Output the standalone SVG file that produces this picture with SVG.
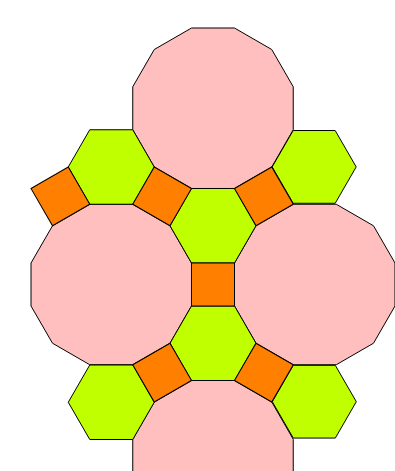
<svg xmlns="http://www.w3.org/2000/svg" width="395" height="471" viewBox="0 0 395 471">
<style>
.d{fill:#ffbfbf;stroke:#000;stroke-width:1}
.h{fill:#bfff00;stroke:#000;stroke-width:1}
.s{fill:#ff8000;stroke:#000;stroke-width:1}
</style>
<defs>
<polygon id="dod" points="80.24,21.5 58.74,58.74 21.5,80.24 -21.5,80.24 -58.74,58.74 -80.24,21.5 -80.24,-21.5 -58.74,-58.74 -21.5,-80.24 21.5,-80.24 58.74,-58.74 80.24,-21.5"/>
<polygon id="hex" points="43,0 21.5,37.24 -21.5,37.24 -43,0 -21.5,-37.24 21.5,-37.24"/>
<polygon id="hexs" points="42,0 21,36.37 -21,36.37 -42,0 -21,-36.37 21,-36.37"/>
<polygon id="sq" points="-21.5,-21.5 21.5,-21.5 21.5,21.5 -21.5,21.5"/>
</defs>
<rect width="395" height="471" fill="#fff"/>
<g id="dodecagon-top"><use href="#dod" class="d" transform="translate(213,108.25)"/></g>
<g id="dodecagon-left"><use href="#dod" class="d" transform="translate(111.25,284.5)"/></g>
<g id="dodecagon-right"><use href="#dod" class="d" transform="translate(314.75,284.5)"/></g>
<g id="dodecagon-bottom"><use href="#dod" class="d" transform="translate(213,460.75)"/></g>
<g id="hex-top"><use href="#hex" class="h" transform="translate(213,225.75)"/></g>
<g id="hex-upper-left"><use href="#hex" class="h" transform="translate(111.25,167)"/></g>
<g id="hex-upper-right"><use href="#hexs" class="h" transform="translate(314.2,166.9)"/></g>
<g id="hex-bottom"><use href="#hex" class="h" transform="translate(213,343.25)"/></g>
<g id="hex-lower-left"><use href="#hex" class="h" transform="translate(111.25,402.25)"/></g>
<g id="hex-lower-right"><use href="#hexs" class="h" transform="translate(314.3,401.7)"/></g>
<g id="square-center"><use href="#sq" class="s" transform="translate(213,284.5)"/></g>
<g id="square-top-left"><use href="#sq" class="s" transform="translate(162.125,196.375) rotate(30)"/></g>
<g id="square-top-right"><use href="#sq" class="s" transform="translate(263.875,196.375) rotate(-30)"/></g>
<g id="square-far-left"><use href="#sq" class="s" transform="translate(60.38,196.37) rotate(-30)"/></g>
<g id="square-lower-left"><use href="#sq" class="s" transform="translate(162.125,372.625) rotate(-30)"/></g>
<g id="square-lower-right"><use href="#sq" class="s" transform="translate(263.875,372.625) rotate(30)"/></g>
<g id="connectors"/>
</svg>
